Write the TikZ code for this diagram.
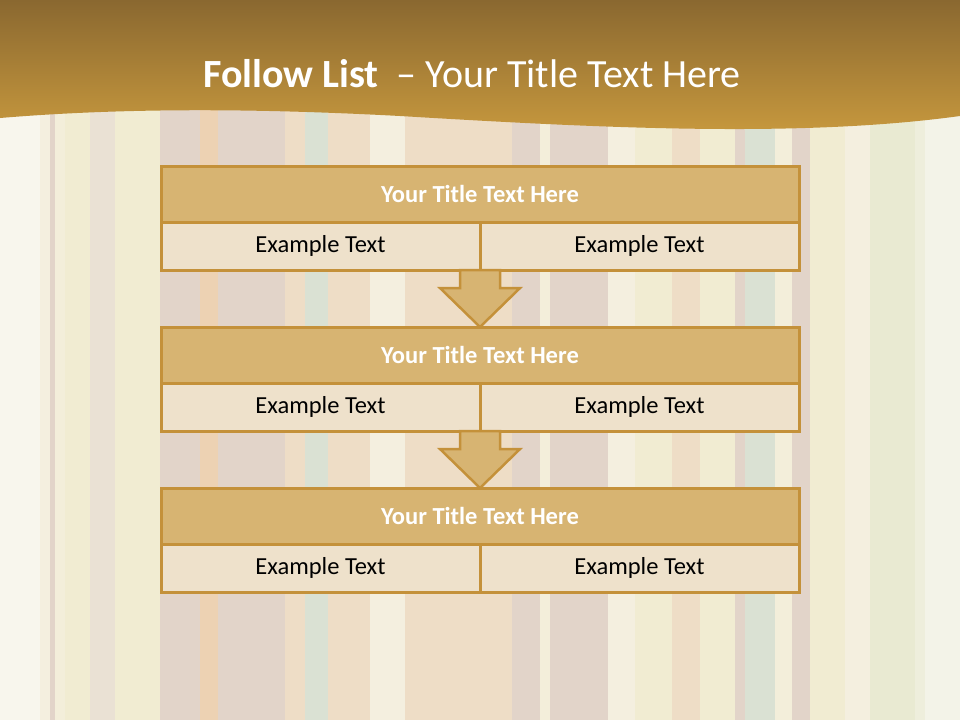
\documentclass[tikz,border=0pt]{standalone}
\usepackage{fontspec}
\setmainfont{Carlito}
\usepackage{tikz}
\usetikzlibrary{calc,positioning}
\definecolor{gold}{HTML}{C4913A}
\definecolor{hdrfill}{HTML}{D7B472}
\definecolor{cellfill}{HTML}{EEE1CB}
\definecolor{bardark}{HTML}{8A6830}
\definecolor{barlight}{HTML}{C99A3E}
\definecolor{paper}{HTML}{F3EEDA}
\definecolor{mauve}{HTML}{DCCBC3}
\definecolor{mauvelt}{HTML}{E7DDD2}
\definecolor{peach}{HTML}{EDD7C0}
\definecolor{orng}{HTML}{EBC8A6}
\definecolor{teal}{HTML}{D2DDD0}
\definecolor{pale}{HTML}{F1ECCF}
\definecolor{sage}{HTML}{E6E8CF}
\definecolor{sagelt}{HTML}{EDEEDD}
\definecolor{cream}{HTML}{F4EFE0}
\tikzset{
  hdr/.style={draw=gold, fill=hdrfill, line width=3pt, outer sep=0pt,
    minimum width=638pt, minimum height=56pt, text=white,
    font=\fontsize{24.5}{28}\selectfont\bfseries},
  cell/.style={draw=gold, fill=cellfill, line width=3pt, outer sep=0pt,
    minimum width=319pt, minimum height=48pt,
    font=\fontsize{24.5}{28}\selectfont},
  blockarrow/.style={draw=gold, fill=hdrfill, line width=2.5pt, line join=miter},
}
\newcommand{\downarrowblk}[2]{%
  \path let \p1=(#1), \p2=(#2) in [blockarrow]
    (\x1-20pt,\y1) -- (\x1-20pt,\y2+39pt) -- (\x1-40pt,\y2+39pt) -- (\x2,\y2)
    -- (\x1+40pt,\y2+39pt) -- (\x1+20pt,\y2+39pt) -- (\x1+20pt,\y1) -- cycle;}
\begin{document}
\begin{tikzpicture}[x=1pt,y=-1pt]
  \useasboundingbox (0,0) rectangle (960,720);
  % background
  \fill[paper] (0,0) rectangle (960,720);
  \foreach \xa/\xb/\col in {0/50/cream, 50/55/mauve, 65/90/pale, 90/115/mauvelt,
      115/160/pale, 160/200/mauve, 200/218/orng, 218/285/mauve, 285/305/peach,
      305/328/teal, 328/370/peach, 370/405/cream, 405/512/peach, 512/540/mauve,
      550/608/mauve, 608/635/cream, 635/672/pale, 672/700/peach, 700/735/pale,
      735/745/mauve, 745/775/teal, 792/810/mauve, 810/845/pale, 845/870/cream,
      870/915/sage, 915/960/sagelt}
    \fill[\col!75!paper] (\xa,0) rectangle (\xb,720);
  \fill[white, opacity=.45] (0,0) rectangle (40,720);
  \fill[white, opacity=.35] (925,0) rectangle (960,720);
  % title bar
  \shade[top color=bardark, bottom color=barlight]
    (0,0) -- (960,0) -- (960,116) .. controls (800,138) and (600,128) .. (400,116)
    .. controls (250,108) and (120,108) .. (0,118) -- cycle;
  \node[anchor=base west, inner sep=0pt, text=white, font=\fontsize{40}{46}\selectfont] (title) at (203,87)
    {\textbf{Follow List} \ – Your Title Text Here};
  % list
  \foreach \i/\y in {1/166, 2/327, 3/488}{
    \node[hdr, anchor=north] (t\i) at (480,\y) {Your Title Text Here};
    \node[cell, anchor=north west] (a\i) at (t\i.south west) {Example Text};
    \node[cell, anchor=north east] (b\i) at (t\i.south east) {Example Text};
  }
  \downarrowblk{a1.south east}{t2.north}
  \downarrowblk{a2.south east}{t3.north}
\end{tikzpicture}
\end{document}
